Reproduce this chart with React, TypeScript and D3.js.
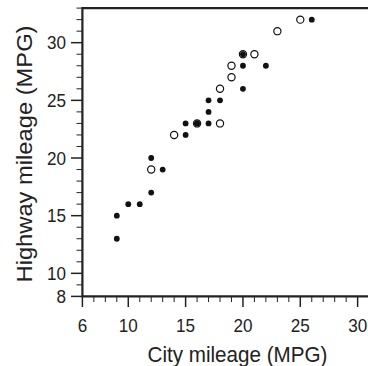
import React from "react";
import * as d3 from "d3";

const filledCity = [9, 9, 10, 11, 12, 12, 13, 15, 15, 16, 16, 17, 17, 17, 18, 20, 20, 20, 22, 26];
const filledHwy = [13, 15, 16, 16, 17, 20, 19, 22, 23, 23, 23, 23, 24, 25, 25, 26, 28, 29, 28, 32];
const openCity = [12, 14, 16, 18, 18, 19, 19, 20, 21, 23, 25];
const openHwy = [19, 22, 23, 23, 26, 27, 28, 29, 29, 31, 32];
const xMajor = [6, 10, 15, 20, 25, 30];
const yMajor = [8, 10, 15, 20, 25, 30];
const xTitle = "City mileage (MPG)";
const yTitle = "Highway mileage (MPG)";

export default function App() {
  const W = 368, H = 366;
  const x = d3.scaleLinear().domain([6, 31]).range([82.4, 369.1]);
  const y = d3.scaleLinear().domain([8, 33]).range([296.4, 8.1]);
  const xMinor = d3.range(6, 32, 1);
  const yMinor = d3.range(8, 34, 1);
  const font = "'Liberation Sans', Arial, Helvetica, sans-serif";
  const col = "#222";
  const sx = 0.9;
  return (
    <svg width={W} height={H} style={{ position: "absolute", left: 0, top: 0 }} fontFamily={font}>
      <rect width={W} height={H} fill="white" />
      {xMinor.map((v) => (
        <line key={"xm" + v} x1={x(v)} x2={x(v)} y1={296.4} y2={xMajor.includes(v) ? 307 : 302} stroke={col} strokeWidth={xMajor.includes(v) ? 1.5 : 1} />
      ))}
      {yMinor.map((v) => (
        <line key={"ym" + v} y1={y(v)} y2={y(v)} x1={82.4} x2={yMajor.includes(v) ? 71 : 76.5} stroke={col} strokeWidth={yMajor.includes(v) ? 1.5 : 1} />
      ))}
      <path d={`M${W + 2},${y(33)} L${x(6)},${y(33)} L${x(6)},${y(8)} L${W + 2},${y(8)}`} fill="none" stroke={col} strokeWidth={2.2} />
      {xMajor.map((v) => (
        <text key={"xl" + v} transform={`translate(${x(v)},332) scale(${sx},1)`} textAnchor="middle" fontSize={19} fill={col}>{v}</text>
      ))}
      {yMajor.map((v) => (
        <text key={"yl" + v} transform={`translate(66,${y(v) + 6.5}) scale(${sx},1)`} textAnchor="end" fontSize={19} fill={col}>{v}</text>
      ))}
      <text x={237.5} y={361.5} textAnchor="middle" fontSize={22.5} textLength={180} lengthAdjust="spacingAndGlyphs" fill={col}>{xTitle}</text>
      <text transform={`translate(32,154) rotate(-90)`} textAnchor="middle" fontSize={22.5} textLength={257} lengthAdjust="spacingAndGlyphs" fill={col}>{yTitle}</text>
      {filledCity.map((c, i) => (
        <circle key={"f" + i} cx={x(c)} cy={y(filledHwy[i])} r={2.9} fill="#111" />
      ))}
      {openCity.map((c, i) => (
        <circle key={"o" + i} cx={x(c)} cy={y(openHwy[i])} r={3.6} fill="none" stroke="#111" strokeWidth={1.2} />
      ))}
    </svg>
  );
}
